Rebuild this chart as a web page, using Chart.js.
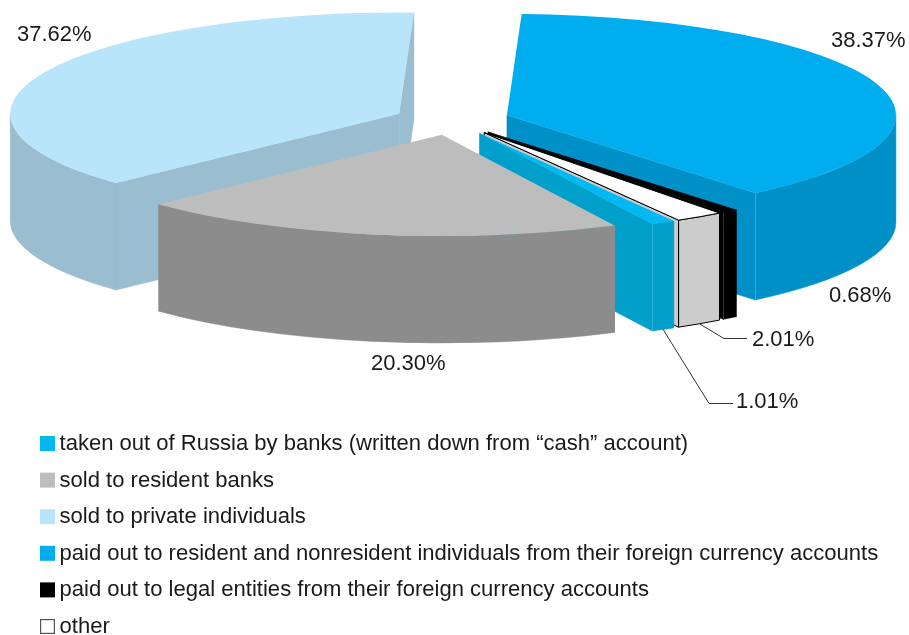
<!DOCTYPE html>
<html>
<head>
<meta charset="utf-8">
<title>Cash currency use</title>
<style>
  html, body { margin: 0; padding: 0; background: #fff; }
  canvas { display: block; }
</style>
<script src="https://cdn.jsdelivr.net/npm/chart.js@4"></script>
</head>
<body>
<canvas id="chart" width="909" height="635"></canvas>
<script>
// Data
const categories = [
  'taken out of Russia by banks (written down from “cash” account)',
  'sold to resident banks',
  'sold to private individuals',
  'paid out to resident and nonresident individuals from their foreign currency accounts',
  'paid out to legal entities from their foreign currency accounts',
  'other'
];
const shares = [1.01, 20.30, 37.62, 38.37, 0.68, 2.01];

// Slice styling
const topColors  = ['#00b9f2', '#bdbdbd', '#b9e5fb', '#00aeef', '#000000', '#ffffff'];
const wallColors = ['#00a0cb', '#8c8c8c', '#9abdd0', '#0090c8', '#000000', '#cccccc'];
const seamColors = ['#35b4d8', '#8c8c8c', '#dcebf2', '#3aa8d6', '#123a48', '#000000'];
const outlineColors = [null, null, null, null, null, '#000000'];

// Projection of the flat pie into a tilted, exploded disc
const disc = { x: 452, y: 120, radius: 389, tilt: 0.26, depth: 107, explode: 58 };

// Value labels, anchored by the baseline start of the text
const labelSpots = [
  { x: 736, y: 408 }, { x: 371, y: 370 }, { x: 17, y: 41 },
  { x: 831, y: 47 },  { x: 829, y: 302 }, { x: 752, y: 346 }
];
// Leader elbows for the thin slices: slice index, elbow, end of the line
const leaders = [
  { slice: 0, elbow: [709, 403.5], end: [733, 403.5] },
  { slice: 5, elbow: [724, 338.5], end: [747, 338.5] }
];
const legendBox = { x: 40, y: 436, size: 15, textX: 59.5, step: 36.6 };
const textFont = '22px "Liberation Sans", Arial, sans-serif';
const legendFont = '22.05px "Liberation Sans", Arial, sans-serif';

function apexOf(arc) {
  const mid = (arc.startAngle + arc.endAngle) / 2;
  return {
    x: disc.x + Math.cos(mid) * disc.explode,
    y: disc.y + Math.sin(mid) * disc.explode * disc.tilt
  };
}

function rimPoint(apex, angle, r) {
  return { x: apex.x + Math.cos(angle) * r, y: apex.y + Math.sin(angle) * r * disc.tilt };
}

function fillStroke(ctx, fill, stroke, width) {
  ctx.fillStyle = fill;
  ctx.fill();
  ctx.lineWidth = width;
  ctx.strokeStyle = stroke;
  ctx.stroke();
}

function cutFace(ctx, apex, angle, r, color, outline) {
  const p = rimPoint(apex, angle, r);
  ctx.beginPath();
  ctx.moveTo(apex.x, apex.y);
  ctx.lineTo(p.x, p.y);
  ctx.lineTo(p.x, p.y + disc.depth);
  ctx.lineTo(apex.x, apex.y + disc.depth);
  ctx.closePath();
  fillStroke(ctx, color, outline || color, outline ? 1 : 0.5);
}

function rimWall(ctx, apex, from, to, r, color, outline) {
  const ry = r * disc.tilt;
  ctx.beginPath();
  ctx.ellipse(apex.x, apex.y, r, ry, 0, from, to);
  ctx.ellipse(apex.x, apex.y + disc.depth, r, ry, 0, to, from, true);
  ctx.closePath();
  fillStroke(ctx, color, outline || color, outline ? 1 : 0.5);
}

// Draws one slice: visible side walls first, then the library's own arc as the lid
function drawSlice(ctx, arc, index) {
  const apex = apexOf(arc);
  const r = arc.outerRadius;
  const a0 = arc.startAngle, a1 = arc.endAngle;
  const wall = wallColors[index], outline = outlineColors[index];

  if (Math.sin(a0 - Math.PI / 2) > 0) cutFace(ctx, apex, a0, r, wall, outline);
  if (Math.sin(a1 + Math.PI / 2) > 0) cutFace(ctx, apex, a1, r, wall, outline);

  for (let n = -1; n <= 2; n++) {
    const from = Math.max(a0, n * 2 * Math.PI);
    const to = Math.min(a1, n * 2 * Math.PI + Math.PI);
    if (to > from) rimWall(ctx, apex, from, to, r, wall, outline);
  }

  // Lighter seam where a cut face meets the rim, snapped to the pixel grid
  const seamAngle = Math.sin(a1 + Math.PI / 2) > 0 ? a1 : a0;
  if (Math.sin(seamAngle) > 0) {
    const s = rimPoint(apex, seamAngle, r);
    const seamX = Math.floor(s.x) + 0.5;
    ctx.beginPath();
    ctx.moveTo(seamX, s.y);
    ctx.lineTo(seamX, s.y + disc.depth);
    ctx.lineWidth = 1;
    ctx.strokeStyle = seamColors[index];
    ctx.stroke();
  }

  ctx.save();
  ctx.translate(apex.x, apex.y);
  ctx.scale(1, disc.tilt);
  ctx.translate(-arc.x, -arc.y);
  arc.draw(ctx);
  ctx.restore();

  if (outline) {
    ctx.beginPath();
    ctx.moveTo(apex.x, apex.y);
    ctx.ellipse(apex.x, apex.y, r, r * disc.tilt, 0, a0, a1);
    ctx.closePath();
    ctx.lineWidth = 1;
    ctx.strokeStyle = outline;
    ctx.stroke();
  }
}

const tiltedPie = {
  id: 'tiltedPie',
  beforeDatasetDraw(chart, args) {
    const ctx = chart.ctx;
    const arcs = chart.getDatasetMeta(args.index).data;
    const order = arcs.map((arc, i) => i).sort((a, b) =>
      Math.sin((arcs[a].startAngle + arcs[a].endAngle) / 2) -
      Math.sin((arcs[b].startAngle + arcs[b].endAngle) / 2));
    order.forEach(i => drawSlice(ctx, arcs[i], i));
    return false;
  },
  afterDraw(chart) {
    const ctx = chart.ctx;
    const arcs = chart.getDatasetMeta(0).data;
    ctx.save();

    // Leader lines
    ctx.strokeStyle = '#333333';
    ctx.lineWidth = 1;
    leaders.forEach(l => {
      const arc = arcs[l.slice];
      const mid = (arc.startAngle + arc.endAngle) / 2;
      const foot = rimPoint(apexOf(arc), mid, arc.outerRadius);
      ctx.beginPath();
      ctx.moveTo(foot.x, foot.y + disc.depth);
      ctx.lineTo(l.elbow[0], l.elbow[1]);
      ctx.lineTo(l.end[0], l.end[1]);
      ctx.stroke();
    });

    // Value labels
    ctx.fillStyle = '#1a1a1a';
    ctx.font = textFont;
    ctx.textAlign = 'left';
    ctx.textBaseline = 'alphabetic';
    shares.forEach((v, i) => ctx.fillText(v.toFixed(2) + '%', labelSpots[i].x, labelSpots[i].y));

    // Legend
    ctx.font = legendFont;
    categories.forEach((name, i) => {
      const y = legendBox.y + i * legendBox.step;
      ctx.fillStyle = topColors[i];
      ctx.fillRect(legendBox.x, y, legendBox.size, legendBox.size);
      if (outlineColors[i]) {
        ctx.strokeStyle = '#555555';
        ctx.lineWidth = 1.2;
        ctx.strokeRect(legendBox.x + 0.6, y + 0.6, legendBox.size - 1.2, legendBox.size - 1.2);
      }
      ctx.fillStyle = '#1a1a1a';
      ctx.fillText(name, legendBox.textX, y + legendBox.size - 1);
    });
    ctx.restore();
  }
};

new Chart(document.getElementById('chart'), {
  type: 'pie',
  data: {
    labels: categories,
    datasets: [{
      data: shares,
      backgroundColor: topColors,
      borderWidth: 0
    }]
  },
  options: {
    responsive: false,
    animation: false,
    radius: disc.radius,
    rotation: 150,
    plugins: { legend: { display: false }, tooltip: { enabled: false } }
  },
  plugins: [tiltedPie]
});
</script>
</body>
</html>
